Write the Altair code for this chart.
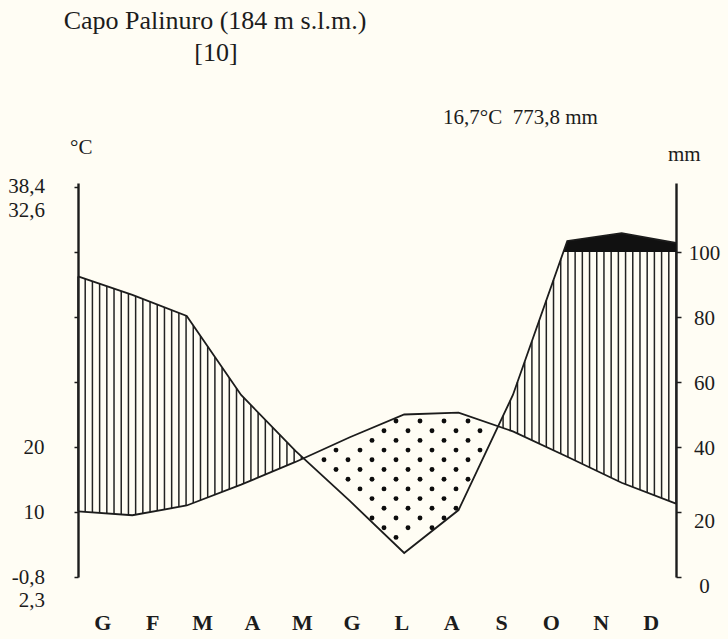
import altair as alt
import numpy as np
import pandas as pd

# Monthly climate normals, Capo Palinuro
months = ["G", "F", "M", "A", "M", "G", "L", "A", "S", "O", "N", "D"]
temperature = [10.1, 9.5, 11.0, 14.2, 17.7, 21.5, 25.0, 25.3, 22.4, 18.5, 14.5, 11.3]   # °C
precipitation = [92.5, 86.8, 80.3, 56.0, 38.8, 23.4, 7.4, 20.6, 56.0, 103.4, 105.8, 102.8]  # mm

temp_ticks = [0, 10, 20, 30, 40, 50, 60]
temp_labelled = [10, 20]
precip_ticks = [0, 20, 40, 60, 80, 100]
extremes_top = ["38,4", "32,6"]
extremes_bottom = ["-0,8", "2,3"]
station = "Capo Palinuro (184 m s.l.m.)"
period = "[10]"
annual = "16,7°C\u00a0\u00a0773,8\u00a0mm"

# ---- geometry -------------------------------------------------------------
W, H = 598, 394                 # plot area
PX_PER_DEG = 6.5                # 10 °C  <->  20 mm
Y_MAX = H / PX_PER_DEG
N = len(months)
INK = "#1c1c1c"
BG = "#fffdf4"
FONT = "Liberation Serif"

# the twelve monthly values run evenly from the left edge to the right edge
pos = [i * N / (N - 1) for i in range(N)]
p_eq = [p / 2.0 for p in precipitation]     # precipitation on the temperature scale

df = pd.DataFrame({"x": pos, "t": temperature, "p": precipitation, "p_eq": p_eq})

# vertical hatching of the humid period (precipitation above temperature)
hx = np.linspace(0, N, 84)
ht = np.interp(hx, pos, temperature)
hp = np.interp(hx, pos, p_eq)
m = hp > ht
hatch = pd.DataFrame({"x": hx[m], "lo": ht[m], "hi": np.minimum(hp[m], 50.0)})

# black band where monthly precipitation exceeds 100 mm
band_rows = []
for i in range(N):
    if i > 0 and p_eq[i - 1] < 50 <= p_eq[i]:
        f = (50 - p_eq[i - 1]) / (p_eq[i] - p_eq[i - 1])
        band_rows.append({"x": pos[i - 1] + f * (pos[i] - pos[i - 1]), "y": 50.0})
    if p_eq[i] >= 50:
        band_rows.append({"x": pos[i], "y": p_eq[i]})
    if i < N - 1 and p_eq[i] >= 50 > p_eq[i + 1]:
        f = (p_eq[i] - 50) / (p_eq[i] - p_eq[i + 1])
        band_rows.append({"x": pos[i] + f * (pos[i + 1] - pos[i]), "y": 50.0})
band = pd.DataFrame(band_rows)
band["base"] = 50.0

# staggered dot fill of the arid period (precipitation below temperature)
x_unit = W / N
gap_px = 1.8
dots = []
for j in range(-40, 40):
    py = 238 + j * 9.7
    if py < 0 or py > H:
        continue
    shift = 0 if j % 2 == 0 else -12
    for k in range(-30, 30):
        px = 318 + shift + k * 24
        if px < 0 or px > W:
            continue
        yd = (H - py) / PX_PER_DEG
        ok = True
        for ddx in (-gap_px, 0, gap_px):
            xd = (px + ddx) / x_unit
            t_here = np.interp(xd, pos, temperature)
            p_here = np.interp(xd, pos, p_eq)
            if not (p_here + gap_px / PX_PER_DEG < yd < t_here - gap_px / PX_PER_DEG):
                ok = False
        if ok:
            dots.append({"x": px / x_unit, "y": yd})
dots = pd.DataFrame(dots)

# ---- encodings ------------------------------------------------------------
xs = alt.Scale(domain=[0, N], nice=False, zero=False)
ys = alt.Scale(domain=[0, Y_MAX], nice=False, zero=False)


def X(field):
    return alt.X(field, type="quantitative", scale=xs, axis=None)


def Y(field):
    return alt.Y(field, type="quantitative", scale=ys, axis=None)


hatch_layer = alt.Chart(hatch).mark_rule(color="#222222", strokeWidth=1.5).encode(
    x=X("x"), y=Y("lo"), y2="hi"
)

dot_layer = alt.Chart(dots).mark_circle(color="#0d0d0d", size=24, opacity=1).encode(
    x=X("x"), y=Y("y")
)

band_layer = alt.Chart(band).mark_area(color="#111111").encode(
    x=X("x"), y=Y("y"), y2="base"
)

temp_line = alt.Chart(df).mark_line(color=INK, strokeWidth=1.8).encode(
    x=alt.X(
        "x:Q",
        scale=xs,
        axis=alt.Axis(
            values=list(range(N + 1)),
            tickSize=31,
            tickWidth=2.4,
            tickColor=INK,
            domainColor=INK,
            domainWidth=2.4,
            labels=False,
            grid=False,
            title=None,
        ),
    ),
    y=alt.Y(
        "t:Q",
        scale=ys,
        axis=alt.Axis(
            orient="left",
            values=temp_ticks,
            labelExpr="indexof(%s, datum.value) >= 0 ? datum.label : ''" % str(temp_labelled),
            tickSize=4,
            tickWidth=1.5,
            tickColor=INK,
            domainColor=INK,
            domainWidth=2.4,
            labelFont=FONT,
            labelFontSize=21,
            labelColor=INK,
            labelPadding=30,
            grid=False,
            title=None,
        ),
    ),
)

precip_line = alt.Chart(df).mark_line(color=INK, strokeWidth=1.8).encode(
    x=X("x"),
    y=alt.Y(
        "p:Q",
        scale=alt.Scale(domain=[0, 2 * Y_MAX], nice=False, zero=False),
        axis=alt.Axis(
            orient="right",
            values=precip_ticks,
            tickSize=5,
            tickWidth=1.5,
            tickColor=INK,
            domainColor=INK,
            domainWidth=2.4,
            labelFont=FONT,
            labelFontSize=21,
            labelColor=INK,
            labelAlign="center",
            labelPadding=23,
            labelOffset={"condition": {"test": "datum.value <= 20", "value": 9}, "value": 1},
            grid=False,
            title=None,
        ),
    ),
)

month_df = pd.DataFrame({"m": months, "xc": [i + 0.5 for i in range(N)]})
month_layer = alt.Chart(month_df).mark_text(
    font=FONT, fontSize=22, fontWeight="bold", color=INK, baseline="middle", align="center"
).encode(x=X("xc"), y=alt.value(H + 46), text="m:N")


def label(text, x, y, size=20, align="left", weight="normal"):
    return alt.Chart(pd.DataFrame({"s": [text]})).mark_text(
        font=FONT, fontSize=size, color=INK, align=align, baseline="middle", fontWeight=weight
    ).encode(x=alt.value(x), y=alt.value(y), text="s:N")


notes = [
    label(station, 137, -162, size=26, align="center"),
    label(period, 138, -130, size=26, align="center"),
    label(annual, 365, -65, size=21),
    label("°C", -8, -35, size=21),
    label("mm", 590, -28, size=21),
]
for k, s in enumerate(extremes_top):
    notes.append(label(s, -33, 4 + 24 * k, size=21, align="right"))
for k, s in enumerate(extremes_bottom):
    notes.append(label(s, -33, H + 1 + 23 * k, size=21, align="right"))

chart = (
    alt.layer(hatch_layer, dot_layer, band_layer, temp_line, precip_line, month_layer, *notes)
    .resolve_scale(y="independent")
    .properties(
        width=W,
        height=H,
        background=BG,
        padding={"left": 78, "top": 183, "right": 52, "bottom": 62},
        autosize=alt.AutoSizeParams(type="none"),
    )
    .configure_view(stroke=None)
)

chart.save("out.html", embed_options={"renderer": "svg", "actions": False})
